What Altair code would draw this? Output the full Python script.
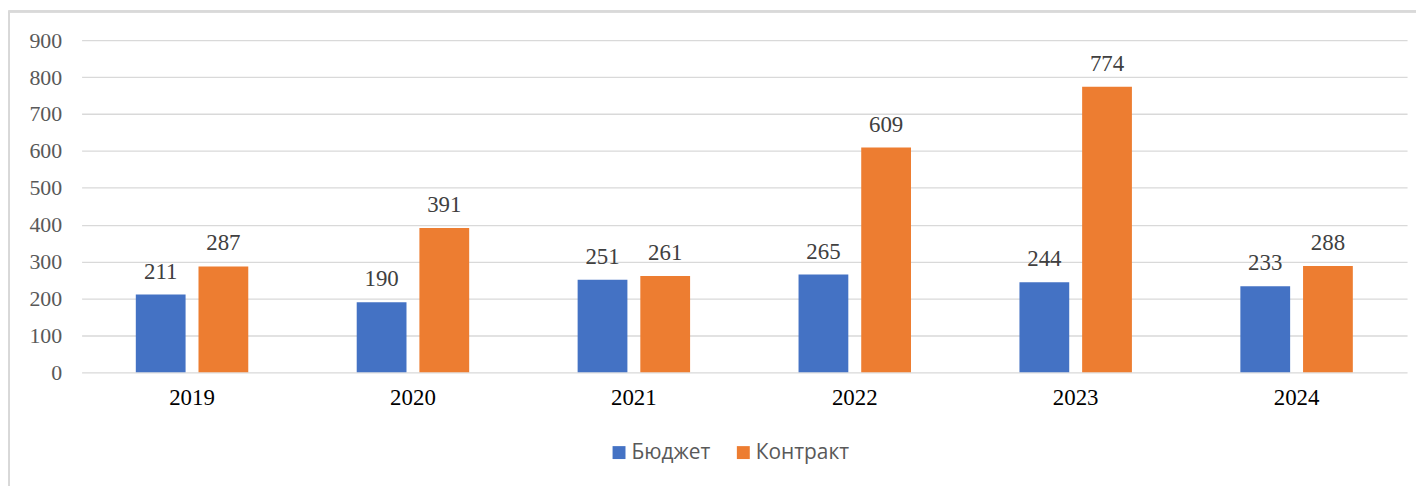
import altair as alt
import pandas as pd

years = ["2019", "2020", "2021", "2022", "2023", "2024"]
series = ["Бюджет", "Контракт"]
budget = [211, 190, 251, 265, 244, 233]
contract = [287, 391, 261, 609, 774, 288]
colors = ["#4472C4", "#ED7D31"]

rows = []
for i, y in enumerate(years):
    rows.append({"year": y, "series": series[0], "value": budget[i]})
    rows.append({"year": y, "series": series[1], "value": contract[i]})
df = pd.DataFrame(rows)

W, H = 1333, 334

base = alt.Chart(df).encode(
    x=alt.X("year:N", sort=years,
            scale=alt.Scale(paddingInner=0, paddingOuter=0),
            axis=alt.Axis(title=None, labelAngle=0, ticks=False, domain=False, grid=False,
                          labelFont="Liberation Serif", labelFontSize=23, labelColor="#000000",
                          labelPadding=14)),
    xOffset=alt.XOffset("series:N", sort=series,
                        scale=alt.Scale(paddingInner=0.206, paddingOuter=0.865)),
    y=alt.Y("value:Q", scale=alt.Scale(domain=[0, 900]),
            axis=alt.Axis(title=None, values=list(range(0, 1000, 100)), ticks=False, domain=False,
                          grid=True, gridColor="#d9d9d9", gridWidth=1.3, labelOverlap=False,
                          labelFont="Liberation Serif", labelFontSize=22, labelColor="#595959",
                          labelPadding=20)),
)

bars = base.mark_bar().encode(
    color=alt.Color("series:N", sort=series,
                    scale=alt.Scale(domain=series, range=colors),
                    legend=alt.Legend(title=None, orient="none", direction="horizontal",
                                      legendX=530, legendY=404,
                                      symbolType="square", symbolSize=169, symbolStrokeWidth=0,
                                      labelFont="Open Sans", labelFontSize=21, labelColor="#595959",
                                      columnPadding=22, labelOffset=2)),
)

labels = base.mark_text(baseline="alphabetic", dy=-16, font="Liberation Serif",
                        fontSize=23, color="#404040").encode(
    text=alt.Text("value:Q"),
)

left_border = alt.Chart(df).mark_rule(color="#d9d9d9", strokeWidth=1.6).encode(
    x=alt.value(-73.2), y=alt.value(-29), y2=alt.value(H + 120))
top_border = alt.Chart(df).mark_rule(color="#d9d9d9", strokeWidth=1.6).encode(
    x=alt.value(-73.2), x2=alt.value(W + 20), y=alt.value(-29))

chart = alt.layer(left_border, top_border, bars, labels).properties(
    width=W, height=H,
    padding={"left": 74, "top": 31, "right": 9, "bottom": 113},
    autosize=alt.AutoSizeParams(type="none"),
).configure(background="white").configure_view(strokeWidth=0, stroke="transparent")

chart.save("out.html", embed_options={"renderer": "svg", "actions": False})
